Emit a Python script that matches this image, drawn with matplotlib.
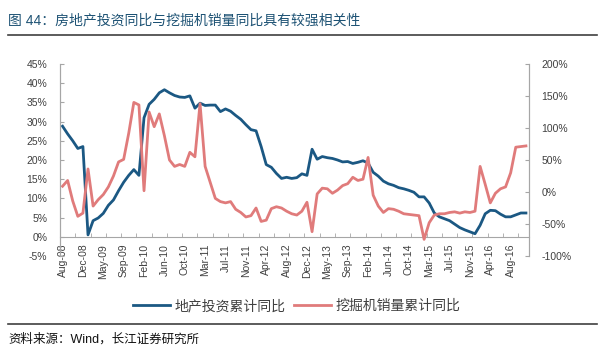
import numpy as np
import matplotlib
matplotlib.use("Agg")
import matplotlib.pyplot as plt
from matplotlib.lines import Line2D
from matplotlib.ticker import FuncFormatter

plt.rcParams['font.family'] = ['Liberation Sans', 'Noto Sans CJK SC']

# monthly points, Aug-08 .. Nov-16 (January not published)
tick_labels = ["Aug-08", "Dec-08", "May-09", "Sep-09", "Feb-10", "Jun-10",
               "Oct-10", "Mar-11", "Jul-11", "Nov-11", "Apr-12", "Aug-12",
               "Dec-12", "May-13", "Sep-13", "Feb-14", "Jun-14", "Oct-14",
               "Mar-15", "Jul-15", "Nov-15", "Apr-16", "Aug-16"]

# 地产投资累计同比 (%), left axis
invest = [28.8, 26.8, 25.0, 23.0, 23.5,
          0.5, 4.2, 4.9, 6.1, 8.2, 9.6, 12.0, 14.2, 16.0, 17.5, 16.0,
          31.0, 34.5, 35.8, 37.5, 38.3, 37.5, 36.8, 36.4, 36.3, 36.7, 33.5,
          34.8, 34.2, 34.3, 34.3, 32.6, 33.3, 32.7, 31.6, 30.6, 29.2, 27.9,
          27.6, 23.5, 18.8, 18.1, 16.5, 15.2, 15.5, 15.2, 15.4, 16.4, 16.0,
          22.8, 20.2, 20.9, 20.6, 20.4, 20.0, 19.5, 19.6, 19.1, 19.4, 19.8,
          19.2, 16.8, 15.8, 14.5, 13.8, 13.4, 12.8, 12.5, 12.1, 11.6, 10.4,
          10.4, 8.8, 6.2, 5.2, 4.7, 4.2, 3.3, 2.4, 1.8, 1.3, 0.8,
          3.0, 6.0, 6.9, 6.8, 5.9, 5.2, 5.2, 5.7, 6.2, 6.2]

# 挖掘机销量累计同比 (%), right axis
excav = [9, 18, -14, -38, -33,
         36, -22, -12, -4, 8, 25, 47, 51, 92, 140, 136,
         2, 125, 102, 122, 88, 50, 40, 43, 40, 62, 55,
         138, 40, 15, -10, -15, -17, -15, -27, -32, -39, -37,
         -25, -46, -44, -26, -23, -25, -30, -34, -36, -30, -16,
         -62, -3, 6, 5, -2, 3, 10, 13, 23, 18, 20,
         54, -5, -22, -32, -26, -27, -30, -34, -35, -36, -37,
         -74, -48, -36, -34, -34, -32, -31, -33, -31, -32, -30,
         40, 12, -17, -2, 5, 8, 30, 70, 71, 72]

x = np.arange(len(invest))
blue = '#1b5883'
red = '#e07b7b'
grey = '#a6a6a6'
txt = '#404040'

fig = plt.figure(figsize=(6.09, 3.59), dpi=100)
ax = fig.add_axes([60/609, 1-256/359, 469/609, 192/359])
ax2 = ax.twinx()

l1, = ax.plot(x, invest, color=blue, lw=2.0, solid_joinstyle='round')
l2, = ax2.plot(x, excav, color=red, lw=2.0, solid_joinstyle='round')

ax.set_xlim(-0.4, 91.6)
ax.set_ylim(-5, 45)
ax.set_yticks(np.arange(-5, 46, 5))
ax.yaxis.set_major_formatter(FuncFormatter(lambda v, p: f"{v:.0f}%"))
ax2.set_ylim(-100, 200)
ax2.set_yticks(np.arange(-100, 201, 50))
ax2.yaxis.set_major_formatter(FuncFormatter(lambda v, p: f"{v:.0f}%"))

ax.set_xticks(np.arange(0, 89, 4))
ax.set_xticklabels(tick_labels)
ax.set_xticks(np.arange(-0.5, 92, 3), minor=True)
ax.tick_params(axis='x', which='major', length=0, pad=5, labelrotation=90,
               labelsize=7.5, labelcolor=txt)
ax.tick_params(axis='x', which='minor', length=3, direction='in', color=grey)
ax.tick_params(axis='y', length=3, direction='in', color=grey, labelsize=7.5,
               labelcolor=txt, pad=9)
ax2.tick_params(axis='y', length=3, direction='in', color=grey, labelsize=7.5,
                labelcolor=txt, pad=9)

for a in (ax, ax2):
    a.spines['top'].set_visible(False)
    a.spines['left'].set_color(grey)
    a.spines['right'].set_color(grey)
    a.spines['bottom'].set_color(grey)
ax.spines['bottom'].set_position(('data', 0))
ax2.spines['bottom'].set_visible(False)

fig.text(8/609, 1-20/359, "图 44：房地产投资同比与挖掘机销量同比具有较强相关性",
         fontsize=10, color='#1d5274', va='center', ha='left')
fig.add_artist(Line2D([8/609, 597/609], [1-35/359]*2, color='#404040', lw=1.2))
fig.add_artist(Line2D([8/609, 597/609], [1-324/359]*2, color='#404040', lw=1.2))
fig.text(8/609, 1-339/359, "资料来源：Wind，长江证券研究所", fontsize=9,
         color='#111111', va='center', ha='left')

fig.legend([l1, l2], ["地产投资累计同比", "挖掘机销量累计同比"], loc='center',
           bbox_to_anchor=(0.487, 1-306/359), ncol=2, frameon=False, fontsize=10,
           handlelength=2.7, handletextpad=0.3, columnspacing=0.6,
           labelcolor=txt)

fig.savefig("out.png", dpi=100)
